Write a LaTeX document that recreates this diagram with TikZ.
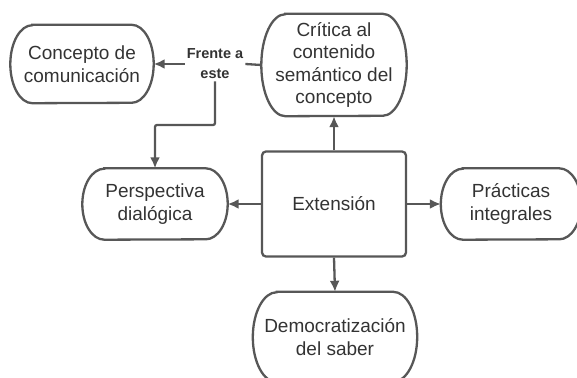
\documentclass[tikz,border=0pt]{standalone}
\usepackage{fontspec}
\setmainfont{Liberation Sans}
\setsansfont{Liberation Sans}
\usetikzlibrary{arrows.meta,positioning,calc}
\definecolor{linegray}{HTML}{575757}
\definecolor{textgray}{HTML}{333333}
% outline with half-elliptic ends: node, x radius, half height
\newcommand{\pilloutline}[3]{%
  \draw[line] ($(#1.north west)+(#2,0)$) -- ($(#1.north east)+(-#2,0)$)
    arc[start angle=90, end angle=-90, x radius=#2, y radius=#3]
    -- ($(#1.south west)+(#2,0)$)
    arc[start angle=270, end angle=90, x radius=#2, y radius=#3] -- cycle;}

\begin{document}
\begin{tikzpicture}[
    x=1pt, y=-1pt,
    font=\sffamily\fontsize{19}{22.5}\selectfont,
    text=textgray,
    line/.style={draw=linegray, line width=2.3pt},
    arrow/.style={line, -{Latex[length=11pt,width=10pt]}},
    pill/.style={align=center, inner sep=0pt},
    mainbox/.style={draw=linegray, line width=2.3pt, rounded corners=4pt, align=center,
        minimum width=144pt, minimum height=105pt},
    labelnode/.style={font=\sffamily\bfseries\fontsize{14.5}{20}\selectfont, align=center,
        inner sep=2pt}
]
\useasboundingbox (0,0) rectangle (577,377);

% Center
\node[mainbox] (extension) at (334,204) {Extensión};

% Outer nodes
\node[pill, minimum width=145pt, minimum height=102pt] (critica) at (334,65)
    {Crítica al\\contenido\\semántico del\\concepto};
\node[pill, minimum width=143pt, minimum height=78pt] (concepto) at (82,64)
    {Concepto de\\comunicación};
\node[pill, minimum width=145pt, minimum height=71pt] (perspectiva) at (155,204)
    {Perspectiva\\dialógica};
\node[pill, minimum width=140pt, minimum height=71pt] (practicas) at (511,204)
    {Prácticas\\integrales};
\node[pill, minimum width=164pt, minimum height=90pt] (democratizacion) at (335,337)
    {Democratización\\del saber};

\pilloutline{critica}{24pt}{51pt}
\pilloutline{concepto}{22pt}{39pt}
\pilloutline{perspectiva}{22pt}{35.5pt}
\pilloutline{practicas}{22pt}{35.5pt}
\pilloutline{democratizacion}{24pt}{45pt}

% Label
\node[labelnode] (frente) at (215,64) {Frente a\\este};

% Arrows
\draw[arrow] (extension.north) -- (critica.south);
\draw[arrow] (extension.west) -- (perspectiva.east);
\draw[arrow] (extension.east) -- (practicas.west);
\draw[arrow] (extension.south) -- (democratizacion.north);

\draw[line] (critica.west) -- (frente.east);
\draw[arrow] (frente.west) -- (concepto.east);

\coordinate (frenteBend) at (215,125);
\draw[arrow, rounded corners=2pt] (frente.south) -- (frenteBend) -| (perspectiva.north);

\end{tikzpicture}
\end{document}
